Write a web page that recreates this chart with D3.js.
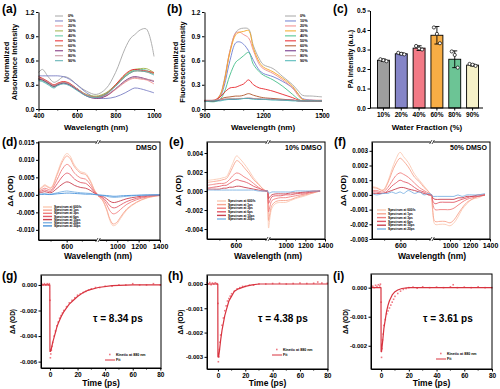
<!DOCTYPE html>
<html>
<head>
<meta charset="utf-8">
<script src="https://cdn.jsdelivr.net/npm/d3@7"></script>
<style>
  body { margin: 0; background: #fff; }
  svg { font-family: "Liberation Sans", Arial, sans-serif; font-weight: bold; }
</style>
</head>
<body>
<svg id="fig" width="500" height="389"></svg>
<script>
// ---------- DATA ----------
// (a) absorbance, (b) fluorescence
const waterLabels = ["0%", "10%", "20%", "30%", "40%", "50%", "60%", "70%", "80%", "90%"];
const absWl = [400, 420, 450, 480, 500, 530, 560, 600, 650, 700, 750, 800, 850, 880, 900, 930, 960, 1000];
const abs0  = [0.45, 0.49, 0.40, 0.33, 0.35, 0.40, 0.38, 0.30, 0.22, 0.18, 0.25, 0.45, 0.75, 0.88, 0.92, 0.98, 0.99, 0.65];
const abs10 = [0.41, 0.41, 0.41, 0.41, 0.41, 0.40, 0.37, 0.30, 0.20, 0.14, 0.13, 0.15, 0.20, 0.24, 0.26, 0.25, 0.23, 0.20];
const abs20 = [0.38, 0.37, 0.33, 0.29, 0.31, 0.33, 0.31, 0.25, 0.17, 0.14, 0.16, 0.24, 0.33, 0.37, 0.38, 0.37, 0.36, 0.31];
const abs30 = [0.37, 0.36, 0.32, 0.28, 0.30, 0.33, 0.31, 0.25, 0.18, 0.16, 0.20, 0.30, 0.42, 0.47, 0.49, 0.50, 0.50, 0.45];
const abs40 = [0.36, 0.35, 0.31, 0.27, 0.30, 0.32, 0.30, 0.24, 0.17, 0.15, 0.19, 0.29, 0.41, 0.46, 0.48, 0.49, 0.48, 0.43];
const abs50 = [0.40, 0.38, 0.34, 0.30, 0.32, 0.34, 0.32, 0.25, 0.17, 0.14, 0.18, 0.30, 0.43, 0.48, 0.49, 0.48, 0.47, 0.45];
const abs60 = [0.38, 0.37, 0.33, 0.29, 0.31, 0.33, 0.31, 0.25, 0.17, 0.15, 0.19, 0.29, 0.40, 0.45, 0.47, 0.47, 0.46, 0.44];
const abs70 = [0.37, 0.36, 0.32, 0.28, 0.30, 0.32, 0.30, 0.24, 0.16, 0.13, 0.16, 0.25, 0.35, 0.39, 0.40, 0.39, 0.37, 0.34];
const abs80 = [0.38, 0.37, 0.33, 0.29, 0.31, 0.33, 0.31, 0.25, 0.17, 0.14, 0.17, 0.25, 0.34, 0.38, 0.39, 0.38, 0.37, 0.35];
const abs90 = [0.35, 0.34, 0.30, 0.26, 0.29, 0.31, 0.29, 0.23, 0.16, 0.14, 0.18, 0.28, 0.40, 0.45, 0.47, 0.47, 0.46, 0.42];
const absColors = ["#a6a6a6", "#7b7fc4", "#f4918f", "#9fb24a", "#5cc7a2", "#e8262b", "#c4784c", "#7b2a7a", "#c38e9c", "#58aeb0"];

const flWl  = [900, 950, 980, 1000, 1030, 1060, 1080, 1100, 1125, 1150, 1180, 1200, 1250, 1300, 1350, 1380, 1400, 1450, 1500];
const fl0  = [0.10, 0.10, 0.18, 0.35, 0.72, 0.95, 0.99, 1.00, 0.99, 0.78, 0.62, 0.55, 0.50, 0.40, 0.30, 0.22, 0.17, 0.16, 0.15];
const fl10 = [0.10, 0.10, 0.15, 0.28, 0.60, 0.82, 0.83, 0.80, 0.72, 0.60, 0.48, 0.44, 0.40, 0.34, 0.26, 0.18, 0.13, 0.11, 0.10];
const fl20 = [0.10, 0.10, 0.17, 0.33, 0.72, 0.94, 0.95, 0.92, 0.88, 0.72, 0.55, 0.50, 0.44, 0.36, 0.26, 0.16, 0.12, 0.11, 0.11];
const fl30 = [0.10, 0.10, 0.17, 0.33, 0.70, 0.92, 0.95, 0.96, 0.97, 0.75, 0.58, 0.52, 0.46, 0.38, 0.28, 0.18, 0.12, 0.10, 0.10];
const fl40 = [0.10, 0.09, 0.12, 0.20, 0.42, 0.58, 0.62, 0.66, 0.70, 0.55, 0.46, 0.42, 0.36, 0.28, 0.18, 0.12, 0.10, 0.10, 0.10];
const fl50 = [0.10, 0.11, 0.15, 0.20, 0.26, 0.27, 0.29, 0.31, 0.36, 0.30, 0.26, 0.25, 0.22, 0.18, 0.14, 0.11, 0.10, 0.10, 0.10];
const fl60 = [0.10, 0.10, 0.12, 0.14, 0.15, 0.16, 0.16, 0.17, 0.19, 0.17, 0.15, 0.14, 0.13, 0.12, 0.11, 0.10, 0.10, 0.10, 0.10];
const fl70 = [0.10, 0.10, 0.11, 0.12, 0.12, 0.12, 0.13, 0.13, 0.13, 0.13, 0.12, 0.12, 0.12, 0.11, 0.11, 0.10, 0.10, 0.10, 0.10];
const fl80 = [0.11, 0.11, 0.12, 0.12, 0.13, 0.13, 0.13, 0.13, 0.14, 0.13, 0.13, 0.12, 0.12, 0.11, 0.11, 0.10, 0.10, 0.10, 0.10];
const fl90 = [0.09, 0.10, 0.10, 0.11, 0.12, 0.12, 0.12, 0.13, 0.13, 0.12, 0.12, 0.12, 0.11, 0.11, 0.10, 0.10, 0.10, 0.10, 0.10];
const flColors = ["#a6a6a6", "#6f7fd0", "#f28a8a", "#f5a623", "#45c08a", "#e8262b", "#b0552a", "#6b2a84", "#c69a9a", "#4bb5b5"];

// (c) PA intensity
const paCats  = ["10%", "20%", "40%", "60%", "80%", "90%"];
const paMean  = [0.245, 0.278, 0.307, 0.373, 0.250, 0.220];
const paSD    = [0.006, 0.005, 0.012, 0.045, 0.043, 0.005];
const paPts   = [[0.250, 0.245, 0.240], [0.283, 0.278, 0.275], [0.318, 0.305, 0.300],
                 [0.413, 0.380, 0.332], [0.290, 0.272, 0.207], [0.226, 0.222, 0.216]];
const paColors = ["#9e9e9e", "#8585c8", "#f27a86", "#f7ad45", "#6cc495", "#f6f1c9"];

// (d)-(f) transient spectra
const dLegend = ["Spectrum at 600fs", "Spectrum at 1ps", "Spectrum at 3ps", "Spectrum at 6ps", "Spectrum at 10ps", "Spectrum at 20ps", "Spectrum at 30ps"];
const tasColors = ["#fbcab4", "#f7a590", "#f07f7f", "#e25c6a", "#c8404f", "#7fb3e3", "#4a93db"];

const dWlL = [420, 440, 460, 480, 500, 540, 570, 600, 620, 650, 690, 720, 750, 780, 800];
const dWlR = [820, 860, 900, 930, 960, 990, 1030, 1090, 1180, 1280, 1400];
const d600fsL = [0.0015, 0.0022, 0.0029, 0.0024, 0.0021, 0.0063, 0.0098, 0.0118, 0.0112, 0.0085, 0.0066, 0.0062, 0.0042, 0.0012, 0.0000];
const d1psL   = [0.0013, 0.0020, 0.0026, 0.0022, 0.0019, 0.0058, 0.0092, 0.0111, 0.0105, 0.0080, 0.0062, 0.0058, 0.0039, 0.0011, 0.0000];
const d3psL   = [0.0010, 0.0015, 0.0019, 0.0016, 0.0014, 0.0045, 0.0072, 0.0087, 0.0082, 0.0062, 0.0048, 0.0045, 0.0030, 0.0008, 0.0000];
const d6psL   = [0.0008, 0.0011, 0.0014, 0.0011, 0.0010, 0.0032, 0.0051, 0.0062, 0.0059, 0.0045, 0.0035, 0.0033, 0.0022, 0.0006, 0.0000];
const d10psL  = [0.0005, 0.0007, 0.0009, 0.0007, 0.0006, 0.0019, 0.0030, 0.0037, 0.0035, 0.0027, 0.0021, 0.0019, 0.0013, 0.0004, 0.0000];
const d20psL  = [0.0002, 0.0003, 0.0003, 0.0002, 0.0002, 0.0006, 0.0009, 0.0011, 0.0010, 0.0008, 0.0006, 0.0005, 0.0004, 0.0001, 0.0000];
const d30psL  = [0.0001, 0.0001, 0.0002, 0.0001, 0.0001, 0.0003, 0.0004, 0.0005, 0.0005, 0.0004, 0.0003, 0.0002, 0.0002, 0.0001, 0.0000];
const d600fsR = [-0.0003, -0.0015, -0.0043, -0.0072, -0.0088, -0.0085, -0.0068, -0.0043, -0.0022, -0.0009, -0.0002];
const d1psR   = [-0.0003, -0.0014, -0.0040, -0.0068, -0.0083, -0.0080, -0.0064, -0.0040, -0.0021, -0.0008, -0.0002];
const d3psR   = [-0.0002, -0.0010, -0.0027, -0.0045, -0.0054, -0.0052, -0.0042, -0.0027, -0.0014, -0.0006, -0.0001];
const d6psR   = [-0.0002, -0.0007, -0.0019, -0.0031, -0.0037, -0.0036, -0.0029, -0.0019, -0.0010, -0.0004, -0.0001];
const d10psR  = [-0.0001, -0.0004, -0.0011, -0.0018, -0.0022, -0.0021, -0.0017, -0.0011, -0.0006, -0.0002, -0.0001];
const d20psR  = [-0.0001, -0.0002, -0.0004, -0.0006, -0.0007, -0.0007, -0.0006, -0.0004, -0.0002, -0.0001, 0.0000];
const d30psR  = [0.0000, -0.0001, -0.0002, -0.0003, -0.0004, -0.0004, -0.0003, -0.0002, -0.0001, 0.0000, 0.0000];

const eWlL = [420, 460, 500, 520, 540, 560, 580, 605, 625, 650, 680, 710, 740, 770, 800];
const eWlR = [820, 826, 840, 860, 900, 950, 1000, 1050, 1100, 1200, 1280, 1350];
const e600fsL = [0.0011, 0.0012, 0.0013, 0.0014, 0.0015, 0.0021, 0.0029, 0.0037, 0.0034, 0.0029, 0.0022, 0.0014, 0.0008, 0.0002, -0.0001];
const e1psL   = [0.0009, 0.0010, 0.0011, 0.0012, 0.0013, 0.0018, 0.0025, 0.0032, 0.0030, 0.0025, 0.0019, 0.0012, 0.0007, 0.0002, -0.0001];
const e3psL   = [0.0006, 0.0007, 0.0008, 0.0008, 0.0009, 0.0012, 0.0016, 0.0019, 0.0018, 0.0015, 0.0012, 0.0008, 0.0004, 0.0001, -0.0001];
const e6psL   = [0.0003, 0.0004, 0.0005, 0.0006, 0.0006, 0.0008, 0.0010, 0.0012, 0.0011, 0.0010, 0.0008, 0.0005, 0.0003, 0.0001, 0.0000];
const e10psL  = [0.0002, 0.0002, 0.0002, 0.0003, 0.0003, 0.0004, 0.0004, 0.0005, 0.0005, 0.0004, 0.0003, 0.0002, 0.0001, 0.0000, 0.0000];
const e20psL  = [0.0001, 0.0001, 0.0001, 0.0001, 0.0001, 0.0001, 0.0001, 0.0001, 0.0001, 0.0001, 0.0001, 0.0001, 0.0000, 0.0000, 0.0000];
const e600fsR = [-0.0003, -0.0039, -0.0028, -0.0018, -0.0013, -0.0012, -0.0012, -0.0010, -0.0008, -0.0005, -0.0002, 0.0000];
const e1psR   = [-0.0003, -0.0031, -0.0023, -0.0015, -0.0011, -0.0010, -0.0010, -0.0009, -0.0007, -0.0004, -0.0002, 0.0000];
const e3psR   = [-0.0002, -0.0022, -0.0016, -0.0010, -0.0008, -0.0007, -0.0007, -0.0006, -0.0005, -0.0003, -0.0001, 0.0000];
const e6psR   = [-0.0001, -0.0013, -0.0010, -0.0006, -0.0005, -0.0005, -0.0004, -0.0004, -0.0003, -0.0002, -0.0001, 0.0000];
const e10psR  = [-0.0001, -0.0008, -0.0006, -0.0004, -0.0003, -0.0003, -0.0003, -0.0002, -0.0002, -0.0001, 0.0000, 0.0000];
const e20psR  = [0.0000, -0.0002, -0.0002, -0.0001, -0.0001, -0.0001, -0.0001, -0.0001, 0.0000, 0.0000, 0.0000, 0.0000];

const fWlL = [420, 450, 490, 520, 545, 570, 598, 620, 650, 690, 720, 750, 780, 800];
const fWlR = [820, 828, 850, 900, 950, 1000, 1040, 1080, 1120, 1170, 1220, 1280, 1350];
const f600fsL = [0.00057, 0.0005, 0.00034, 0.0009, 0.0017, 0.0024, 0.0029, 0.0026, 0.0022, 0.0014, 0.0010, 0.0006, 0.0002, -0.0002];
const f1psL   = [0.0005, 0.00045, 0.0003, 0.0008, 0.0015, 0.0021, 0.0025, 0.0023, 0.0019, 0.0012, 0.0009, 0.0005, 0.0002, -0.0001];
const f3psL   = [0.0003, 0.0003, 0.0002, 0.0005, 0.0009, 0.0013, 0.0015, 0.0014, 0.0012, 0.0008, 0.0005, 0.0003, 0.0001, 0.0000];
const f6psL   = [0.0002, 0.0002, 0.0001, 0.0003, 0.0006, 0.0008, 0.0010, 0.0009, 0.0008, 0.0005, 0.0003, 0.0002, 0.0000, 0.0000];
const f10psL  = [0.0001, 0.0001, 0.0001, 0.0002, 0.0003, 0.0004, 0.0005, 0.0005, 0.0004, 0.0003, 0.0002, 0.0001, 0.0000, 0.0000];
const f20psL  = [0.0001, 0.0000, 0.0001, 0.0001, 0.0002, 0.0001, 0.0002, 0.0001, 0.0003, 0.0001, 0.0002, 0.0000, 0.0001, 0.0000];
const f600fsR = [-0.0002, -0.0012, -0.0020, -0.0020, -0.0020, -0.0021, -0.0019, -0.0015, -0.0010, -0.0006, -0.0003, -0.0002, 0.0000];
const f1psR   = [-0.0002, -0.0011, -0.0018, -0.0018, -0.0018, -0.0019, -0.0017, -0.0013, -0.0009, -0.0005, -0.0003, -0.0001, 0.0000];
const f3psR   = [-0.0001, -0.0006, -0.0010, -0.0010, -0.0010, -0.0010, -0.0009, -0.0007, -0.0005, -0.0003, -0.0002, -0.0001, 0.0000];
const f6psR   = [-0.0001, -0.0004, -0.0006, -0.0005, -0.0005, -0.0005, -0.0005, -0.0004, -0.0003, -0.0002, -0.0001, -0.0001, 0.0000];
const f10psR  = [0.0000, -0.0002, -0.0003, -0.0003, -0.0003, -0.0003, -0.0003, -0.0002, -0.0002, -0.0001, -0.0001, 0.0000, 0.0000];
const f20psR  = [0.0000, -0.0001, -0.0001, -0.0001, -0.0001, -0.0001, -0.0001, 0.0000, -0.0001, 0.0000, 0.0000, 0.0000, 0.0001];

// (g)-(i) kinetics at 880 nm
const gT = [-6, -5, -4, -3, -2, -1, -0.5, 0, 0.3, 0.6, 1, 1.5, 2, 3, 4, 5, 6, 7, 8, 9, 10, 12, 14, 16, 18, 20, 22, 24, 26, 28, 30, 33, 36, 40, 45, 50, 55, 60, 65, 70, 75, 80];
const gV = [0.0001, 0.0000, 0.0001, 0.0000, 0.0001, 0.0000, 0.0001, -0.0012, -0.0057, -0.0054, -0.0051, -0.0048, -0.0045, -0.0040, -0.0036, -0.0032, -0.0029, -0.0026, -0.0024, -0.0022, -0.0020,
            -0.0017, -0.0014, -0.0012, -0.0010, -0.0008, -0.0007, -0.0006, -0.0005, -0.0004, -0.0003, -0.0002, -0.0002, -0.0001, -0.0001, 0.0000, 0.0000, 0.0001, 0.0000, 0.0000, 0.0001, 0.0000];
const gFitT = [-6.5, -0.1, 0, 0.5, 1, 2, 3, 4, 5, 6, 8, 10, 12, 14, 17, 20, 24, 28, 35, 45, 60, 80.5];
const gFitV = [0, 0, -0.0052, -0.0052, -0.0050, -0.0045, -0.0041, -0.0037, -0.0033, -0.0030, -0.0025, -0.0021, -0.0018, -0.0015, -0.0012, -0.0009, -0.0006, -0.0004, -0.0002, -0.00005, 0, 0];

const hT = [-8, -7, -6, -5, -4, -3, -2, -1, -0.5, 0, 0.3, 0.6, 1, 1.5, 2, 3, 4, 5, 6, 7, 8, 9, 10, 12, 14, 16, 18, 20, 23, 26, 30, 35, 40, 45, 50, 55, 60, 65, 70, 73, 76, 80];
const hV = [0.00005, 0.0000, 0.00006, -0.00003, 0.00004, 0.0000, 0.00005, 0.00002, 0.0000, -0.0008, -0.0032, -0.0030, -0.0027, -0.0024, -0.0021, -0.0017, -0.0014, -0.0011, -0.0009, -0.0007, -0.0006, -0.0005, -0.0004,
            -0.0003, -0.0002, -0.00015, -0.0001, -0.0001, -0.00005, -0.00005, 0.0000, 0.0000, 0.00002, 0.00003, 0.0000, 0.00002, 0.00004, 0.00002, 0.00003, 0.00008, 0.00004, 0.00003];
const hFitT = [-8, -0.1, 0, 0.5, 1, 2, 3, 4, 5, 6, 8, 10, 12, 15, 20, 25, 30, 40, 60, 80.5];
const hFitV = [0, 0, -0.0030, -0.0030, -0.0028, -0.0023, -0.0019, -0.0016, -0.0013, -0.0011, -0.0007, -0.0005, -0.0003, -0.0002, -0.0001, -0.00004, 0, 0, 0, 0];

const iT = [-7, -6, -5, -4, -3, -2, -1, -0.5, 0, 0.3, 0.6, 1, 1.5, 2, 3, 4, 5, 6, 7, 8, 9, 10, 12, 14, 16, 18, 20, 23, 26, 30, 35, 40, 45, 50, 52, 55, 60, 65, 70, 75, 80];
const iV = [0.00003, 0.00005, 0.0000, 0.00008, 0.00004, 0.0001, 0.00006, 0.00012, -0.0005, -0.0024, -0.0021, -0.0018, -0.0016, -0.0013, -0.0011, -0.0009, -0.0008, -0.0007, -0.0006, -0.0005, -0.0004, -0.0003,
            -0.0002, -0.00012, -0.00006, -0.00003, 0.0, 0.00002, -0.00002, 0.00003, 0.0, 0.00002, 0.0, 0.00003, 0.0001, 0.0, 0.00002, 0.0, 0.00003, 0.0, 0.0];
const iFitT = [-7.3, -0.1, 0, 0.3, 1, 2, 3, 4, 5, 6, 8, 10, 12, 15, 20, 30, 50, 80];
const iFitV = [0, 0, -0.0022, -0.0022, -0.0019, -0.0014, -0.0011, -0.0008, -0.0006, -0.00045, -0.00025, -0.00014, -0.00008, -0.00003, 0, 0, 0, 0];

// ---------- HELPERS ----------
const svg = d3.select("#fig");
const fmt3 = d => d.toFixed(3);
const fmt1 = d => d.toFixed(1);
const fmtInt = d => String(d);

function styleAxis(g, fs) {
  g.attr("font-size", fs).attr("font-family", null);
  g.selectAll("path, line").attr("stroke", "#000").attr("stroke-width", 1);
  g.selectAll("text").attr("fill", "#000");
  return g;
}

function addText(x, y, txt, fs, anchor, rotate) {
  const t = svg.append("text").attr("font-size", fs).attr("text-anchor", anchor || "start").text(txt);
  if (rotate) {
    t.attr("transform", `translate(${x},${y}) rotate(-90)`).attr("dominant-baseline", "central");
  } else {
    t.attr("x", x).attr("y", y);
  }
  return t;
}

function minorTicks(scale, vals, y, len) {
  svg.append("g").selectAll("line").data(vals).join("line")
    .attr("x1", d => scale(d)).attr("x2", d => scale(d))
    .attr("y1", y).attr("y2", y + len)
    .attr("stroke", "#000").attr("stroke-width", 1);
}

function lineSeries(xs, ys, xv, yv, color, w, curve) {
  const line = d3.line().x(d => xs(d[0])).y(d => ys(d[1])).curve(curve || d3.curveMonotoneX);
  svg.append("path").datum(xv.map((v, i) => [v, yv[i]]))
    .attr("d", line).attr("fill", "none").attr("stroke", color).attr("stroke-width", w || 1)
    .attr("stroke-linejoin", "round");
}

// ---------- (a) ----------
{
  const x = d3.scaleLinear().domain([400, 1000]).range([38.5, 154]);
  const y = d3.scaleLinear().domain([0, 1.2]).range([109, 12]);
  [abs0, abs10, abs20, abs30, abs40, abs50, abs60, abs70, abs80, abs90].forEach((s, i) =>
    lineSeries(x, y, absWl, s, absColors[i], 0.9, d3.curveCatmullRom));
  styleAxis(svg.append("g").attr("transform", "translate(38.5,0)")
    .call(d3.axisLeft(y).tickValues([0, 0.3, 0.6, 0.9, 1.2]).tickFormat(fmt1).tickSize(2.5).tickSizeOuter(0).tickPadding(1.5)), 6.5);
  styleAxis(svg.append("g").attr("transform", "translate(0,109)")
    .call(d3.axisBottom(x).tickValues([400, 600, 800, 1000]).tickFormat(fmtInt).tickSize(2.5).tickSizeOuter(0).tickPadding(1.5)), 6.5);
  minorTicks(x, [500, 700, 900], 109, 1.5);
  addText(6.5, 62, "Normalized", 7.5, "middle", true);
  addText(14.5, 62, "Absorbance Intensity", 7.5, "middle", true);
  addText(96, 130, "Wavelength (nm)", 8, "middle");
  waterLabels.forEach((l, i) => {
    svg.append("line").attr("x1", 55).attr("x2", 63).attr("y1", 16 + i * 4.97).attr("y2", 16 + i * 4.97)
      .attr("stroke", absColors[i]).attr("stroke-width", 1);
    addText(68, 17.4 + i * 4.97, l, 3.8, "start");
  });
  addText(2, 13, "(a)", 12, "start");
}

// ---------- (b) ----------
{
  const x = d3.scaleLinear().domain([900, 1500]).range([204.5, 322]);
  const y = d3.scaleLinear().domain([0, 1.2]).range([109, 12]);
  [fl0, fl10, fl20, fl30, fl40, fl50, fl60, fl70, fl80, fl90].forEach((s, i) =>
    lineSeries(x, y, flWl, s, flColors[i], 0.9, d3.curveCatmullRom));
  styleAxis(svg.append("g").attr("transform", "translate(204.5,0)")
    .call(d3.axisLeft(y).tickValues([0, 0.3, 0.6, 0.9, 1.2]).tickFormat(fmt1).tickSize(2.5).tickSizeOuter(0).tickPadding(1.5)), 6.5);
  styleAxis(svg.append("g").attr("transform", "translate(0,109)")
    .call(d3.axisBottom(x).tickValues([900, 1200, 1500]).tickFormat(fmtInt).tickSize(2.5).tickSizeOuter(0).tickPadding(1.5)), 6.5);
  minorTicks(x, [1000, 1100, 1300, 1400], 109, 1.5);
  addText(175, 62, "Normalized", 7.5, "middle", true);
  addText(182.5, 62, "Fluorescence Intensity", 7.5, "middle", true);
  addText(263, 130, "Wavelength (nm)", 8, "middle");
  waterLabels.forEach((l, i) => {
    svg.append("line").attr("x1", 285).attr("x2", 296).attr("y1", 16 + i * 4.97).attr("y2", 16 + i * 4.97)
      .attr("stroke", flColors[i]).attr("stroke-width", 1);
    addText(300, 17.4 + i * 4.97, l, 3.8, "start");
  });
  addText(167, 13, "(b)", 12, "start");
}

// ---------- (c) ----------
{
  const x = d3.scaleBand().domain(paCats).range([373, 483]).paddingInner(0.33).paddingOuter(0.25);
  const y = d3.scaleLinear().domain([0, 0.5]).range([108, 10.5]);
  const bw = x.bandwidth();
  svg.append("g").selectAll("rect").data(paCats).join("rect")
    .attr("x", d => x(d)).attr("width", bw)
    .attr("y", (d, i) => y(paMean[i])).attr("height", (d, i) => y(0) - y(paMean[i]))
    .attr("fill", (d, i) => paColors[i]).attr("stroke", "#000").attr("stroke-width", 0.9);
  paCats.forEach((c, i) => {
    const cx = x(c) + bw / 2;
    const g = svg.append("g").attr("stroke", "#000").attr("stroke-width", 0.9);
    g.append("line").attr("x1", cx).attr("x2", cx).attr("y1", y(paMean[i] + paSD[i])).attr("y2", y(paMean[i] - paSD[i]));
    g.append("line").attr("x1", cx - 2.5).attr("x2", cx + 2.5).attr("y1", y(paMean[i] + paSD[i])).attr("y2", y(paMean[i] + paSD[i]));
    g.append("line").attr("x1", cx - 2.5).attr("x2", cx + 2.5).attr("y1", y(paMean[i] - paSD[i])).attr("y2", y(paMean[i] - paSD[i]));
    paPts[i].forEach((v, j) => {
      svg.append("circle").attr("cx", cx + (j - 1) * 3).attr("cy", y(v)).attr("r", 1.6)
        .attr("fill", "#fff").attr("stroke", "#000").attr("stroke-width", 0.7);
    });
  });
  styleAxis(svg.append("g").attr("transform", "translate(370,0)")
    .call(d3.axisLeft(y).tickValues([0, 0.1, 0.2, 0.3, 0.4, 0.5]).tickFormat(fmt1).tickSize(2.5).tickSizeOuter(0).tickPadding(1.5)), 6.5);
  const xa = svg.append("g").attr("transform", "translate(0,108)")
    .call(d3.axisBottom(x).tickSize(2.5).tickSizeOuter(0).tickPadding(2));
  styleAxis(xa, 6.5);
  xa.select(".domain").attr("d", "M370,0H483");
  addText(350.5, 59, "PA Intensity (a.u.)", 7, "middle", true);
  addText(427, 130, "Water Fraction (%)", 8, "middle");
  addText(333, 13, "(c)", 12, "start");
}

// ---------- (d)-(f) broken-axis transient spectra ----------
function tasPanel(o) {
  const xL = d3.scaleLinear().domain([420, 800]).range([o.x0, o.brk]);
  const xR = d3.scaleLinear().domain([820, 1400]).range([o.brk, o.x1]);
  const y = d3.scaleLinear().domain(o.yDom).range([o.y1, o.y0]);
  o.left.forEach((s, i) => lineSeries(xL, y, o.wlL, s, tasColors[o.colorIdx[i]], 0.9, d3.curveCatmullRom));
  o.right.forEach((s, i) => lineSeries(xR, y, o.wlR, s, tasColors[o.colorIdx[i]], 0.9, d3.curveCatmullRom));
  svg.append("rect").attr("x", o.x0).attr("y", o.y0).attr("width", o.x1 - o.x0).attr("height", o.y1 - o.y0)
    .attr("fill", "none").attr("stroke", "#000").attr("stroke-width", 1);
  styleAxis(svg.append("g").attr("transform", `translate(${o.x0},0)`)
    .call(d3.axisLeft(y).tickValues(o.yTicks).tickFormat(fmt3).tickSize(2.5).tickSizeOuter(0).tickPadding(1.5)), 6.3);
  styleAxis(svg.append("g").attr("transform", `translate(0,${o.y1})`)
    .call(d3.axisBottom(xL).tickValues([600]).tickFormat(fmtInt).tickSize(2.5).tickSizeOuter(0).tickPadding(1.5)), 7);
  styleAxis(svg.append("g").attr("transform", `translate(0,${o.y1})`)
    .call(d3.axisBottom(xR).tickValues([1000, 1200, 1400]).tickFormat(fmtInt).tickSize(2.5).tickSizeOuter(0).tickPadding(1.5)), 7);
  minorTicks(xL, [500, 700], o.y1, 1.5);
  minorTicks(xR, [900, 1100, 1300], o.y1, 1.5);
  // break marks
  [o.y0, o.y1].forEach(yy => {
    svg.append("rect").attr("x", o.brk - 1.5).attr("y", yy - 2).attr("width", 3).attr("height", 4).attr("fill", "#fff");
    [-1.2, 1.2].forEach(dx => svg.append("line")
      .attr("x1", o.brk + dx - 1.2).attr("y1", yy + 2).attr("x2", o.brk + dx + 1.2).attr("y2", yy - 2)
      .attr("stroke", "#000").attr("stroke-width", 0.7));
  });
  // legend
  o.legend.forEach((l, i) => {
    const yy = o.legY + i * o.legDy;
    svg.append("line").attr("x1", o.legX).attr("x2", o.legX + 9).attr("y1", yy).attr("y2", yy)
      .attr("stroke", tasColors[o.colorIdx[i]]).attr("stroke-width", 1.4);
    addText(o.legX + 11, yy + 1.1, l, 3.2, "start");
  });
  addText(o.x1 - 3, o.y0 + 7.5, o.tag, 7, "end");
  addText(o.yLabX, (o.y0 + o.y1) / 2, "ΔA (OD)", 8, "middle", true);
  addText(o.brk, 259, "Wavelength (nm)", 8.5, "middle");
  addText(o.labX, 146, o.lab, 12, "start");
}

tasPanel({
  x0: 38.5, x1: 160, brk: 98, y0: 142, y1: 240, yDom: [-0.0129, 0.0151],
  yTicks: [0.015, 0.010, 0.005, 0, -0.005, -0.010],
  wlL: dWlL, wlR: dWlR,
  left: [d600fsL, d1psL, d3psL, d6psL, d10psL, d20psL, d30psL],
  right: [d600fsR, d1psR, d3psR, d6psR, d10psR, d20psR, d30psR],
  colorIdx: [0, 1, 2, 3, 4, 5, 6], legend: dLegend,
  legX: 43, legY: 207, legDy: 3.15, tag: "DMSO", yLabX: 10, lab: "(d)", labX: 2
});

tasPanel({
  x0: 207, x1: 325, brk: 268, y0: 142, y1: 239, yDom: [-0.00505, 0.00516],
  yTicks: [0.004, 0.002, 0, -0.002, -0.004],
  wlL: eWlL, wlR: eWlR,
  left: [e600fsL, e1psL, e3psL, e6psL, e10psL, e20psL],
  right: [e600fsR, e1psR, e3psR, e6psR, e10psR, e20psR],
  colorIdx: [0, 1, 2, 3, 4, 5], legend: dLegend.slice(0, 6),
  legX: 217, legY: 201, legDy: 3.6, tag: "10% DMSO", yLabX: 178, lab: "(e)", labX: 169
});

tasPanel({
  x0: 372, x1: 490, brk: 432, y0: 142, y1: 239, yDom: [-0.0030, 0.0036],
  yTicks: [0.003, 0.002, 0.001, 0, -0.001, -0.002, -0.003],
  wlL: fWlL, wlR: fWlR,
  left: [f600fsL, f1psL, f3psL, f6psL, f10psL, f20psL],
  right: [f600fsR, f1psR, f3psR, f6psR, f10psR, f20psR],
  colorIdx: [0, 1, 2, 3, 4, 5], legend: dLegend.slice(0, 6),
  legX: 377, legY: 210, legDy: 3.8, tag: "50% DMSO", yLabX: 343, lab: "(f)", labX: 334
});

// ---------- (g)-(i) kinetics ----------
function kinPanel(o) {
  const x = d3.scaleLinear().domain(o.xDom).range([o.x0, o.x1]);
  const y = d3.scaleLinear().domain(o.yDom).range([o.y1, o.y0]);
  svg.append("g").selectAll("rect").data(o.t).join("rect")
    .attr("x", d => x(d) - 0.8).attr("y", (d, i) => y(o.v[i]) - 0.8)
    .attr("width", 1.6).attr("height", 1.6).attr("fill", "#ef7a84");
  lineSeries(x, y, o.fitT, o.fitV, "#d8333f", 1.2, d3.curveLinear);
  svg.append("rect").attr("x", o.x0).attr("y", o.y0).attr("width", o.x1 - o.x0).attr("height", o.y1 - o.y0)
    .attr("fill", "none").attr("stroke", "#000").attr("stroke-width", 1);
  styleAxis(svg.append("g").attr("transform", `translate(${o.x0},0)`)
    .call(d3.axisLeft(y).tickValues(o.yTicks).tickFormat(fmt3).tickSize(2.5).tickSizeOuter(0).tickPadding(1.5)), 6);
  styleAxis(svg.append("g").attr("transform", `translate(0,${o.y1})`)
    .call(d3.axisBottom(x).tickValues([0, 20, 40, 60, 80]).tickFormat(fmtInt).tickSize(2.5).tickSizeOuter(0).tickPadding(1.5)), 6.5);
  minorTicks(x, [10, 30, 50, 70], o.y1, 1.5);
  svg.append("rect").attr("x", o.legX + 4).attr("y", o.legY - 0.8).attr("width", 1.6).attr("height", 1.6).attr("fill", "#ef7a84");
  addText(o.legX + 11, o.legY + 1.2, "Kinetic at 880 nm", 3.6, "start");
  svg.append("line").attr("x1", o.legX).attr("x2", o.legX + 10).attr("y1", o.legY + 5.5).attr("y2", o.legY + 5.5)
    .attr("stroke", "#d8333f").attr("stroke-width", 1);
  addText(o.legX + 11, o.legY + 6.7, "Fit", 3.6, "start");
  addText(o.tauX, 322, o.tau, 10, "start");
  addText(o.yLabX, (o.y0 + o.y1) / 2, "ΔA (OD)", 6.5, "middle", true);
  addText((o.x0 + o.x1) / 2, 386, "Time (ps)", 8.5, "middle");
  addText(o.labX, 280, o.lab, 12, "start");
}

kinPanel({
  x0: 41, x1: 161, y0: 275, y1: 368, xDom: [-6.5, 80.5], yDom: [-0.0065, 0.00078],
  yTicks: [0, -0.002, -0.004, -0.006], t: gT, v: gV, fitT: gFitT, fitV: gFitV,
  legX: 105, legY: 354.5, tau: "τ = 8.34 ps", tauX: 93, yLabX: 12.5, lab: "(g)", labX: 2
});
kinPanel({
  x0: 207, x1: 328, y0: 275, y1: 369, xDom: [-8, 80.5], yDom: [-0.0035, 0.00037],
  yTicks: [0, -0.001, -0.002, -0.003], t: hT, v: hV, fitT: hFitT, fitV: hFitV,
  legX: 272, legY: 349.5, tau: "τ = 4.38 ps", tauX: 258, yLabX: 180, lab: "(h)", labX: 168
});
kinPanel({
  x0: 371, x1: 492, y0: 274, y1: 369, xDom: [-7.3, 80], yDom: [-0.0028, 0.00047],
  yTicks: [0, -0.001, -0.002], t: iT, v: iV, fitT: iFitT, fitV: iFitV,
  legX: 436, legY: 353.5, tau: "τ = 3.61 ps", tauX: 423, yLabX: 345, lab: "(i)", labX: 333
});
</script>
</body>
</html>
